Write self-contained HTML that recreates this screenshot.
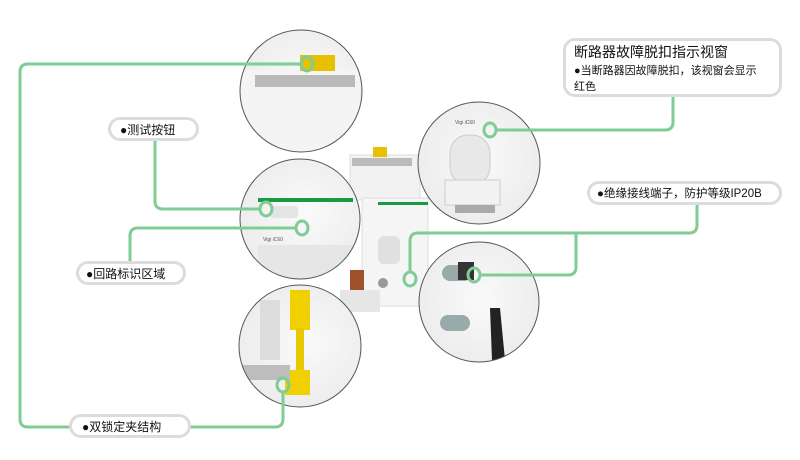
<!DOCTYPE html>
<html><head><meta charset="utf-8"><style>
html,body{margin:0;padding:0;background:#fff;}
body{width:800px;height:460px;overflow:hidden;position:relative;font-family:"Liberation Sans","Noto Sans CJK SC",sans-serif;}
.pill{position:absolute;background:#fff;border:3px solid #dcdcdc;border-radius:12px;font-size:12px;color:#111;line-height:16px;box-sizing:border-box;}
</style></head><body>
<svg width="800" height="460" style="position:absolute;left:0;top:0">
<defs>
<radialGradient id="g" cx="50%" cy="45%" r="60%"><stop offset="0" stop-color="#fafafa"/><stop offset="0.8" stop-color="#ececec"/><stop offset="1" stop-color="#cfcfcf"/></radialGradient>
<clipPath id="c1"><circle cx="301" cy="91" r="61"/></clipPath>
<clipPath id="c2"><circle cx="300" cy="219" r="60"/></clipPath>
<clipPath id="c3"><circle cx="300" cy="346" r="61"/></clipPath>
<clipPath id="c4"><circle cx="479" cy="163" r="61"/></clipPath>
<clipPath id="c5"><circle cx="479" cy="302" r="60"/></clipPath>
</defs>
<!-- central device -->
<rect x="350" y="155" width="70" height="45" fill="#f2f2f2" stroke="#ddd"/>
<rect x="352" y="158" width="60" height="8" fill="#bbb"/>
<rect x="373" y="147" width="14" height="10" fill="#e8c000"/>
<rect x="362" y="198" width="66" height="108" fill="#f5f5f5" stroke="#ddd"/>
<rect x="378" y="202" width="50" height="3" fill="#1a9a40"/>
<rect x="378" y="236" width="22" height="28" rx="6" fill="#e0e0e0"/>
<rect x="350" y="270" width="14" height="30" fill="#a0522d"/>
<rect x="340" y="290" width="40" height="22" fill="#e6e6e6"/>
<circle cx="383" cy="283" r="5" fill="#999"/>
<!-- circles -->
<g clip-path="url(#c1)"><rect x="230" y="20" width="150" height="150" fill="url(#g)"/><rect x="240" y="70" width="120" height="100" fill="#f4f4f4"/><rect x="255" y="75" width="100" height="12" fill="#b9b9b9"/><rect x="300" y="55" width="35" height="16" fill="#e8c000"/></g>
<circle cx="301" cy="91" r="61" fill="none" stroke="#555" stroke-width="1"/>
<g clip-path="url(#c2)"><rect x="230" y="150" width="150" height="140" fill="url(#g)"/><rect x="258" y="198" width="95" height="4" fill="#1a9a40"/><rect x="270" y="206" width="28" height="12" rx="3" fill="#e4e4e4"/><rect x="258" y="245" width="95" height="40" fill="#e6e6e6"/><text x="263" y="241" font-size="5" fill="#555">Vigi iC60</text></g>
<circle cx="300" cy="219" r="60" fill="none" stroke="#555" stroke-width="1"/>
<g clip-path="url(#c3)"><rect x="230" y="280" width="150" height="140" fill="url(#g)"/><rect x="260" y="300" width="20" height="60" fill="#ddd"/><rect x="290" y="290" width="20" height="40" fill="#f0d000"/><rect x="296" y="328" width="8" height="42" fill="#e8c800"/><rect x="285" y="370" width="25" height="25" fill="#f0d000"/><rect x="240" y="365" width="50" height="15" fill="#bdbdbd"/></g>
<circle cx="300" cy="346" r="61" fill="none" stroke="#555" stroke-width="1"/>
<g clip-path="url(#c4)"><rect x="410" y="95" width="140" height="140" fill="url(#g)"/><rect x="450" y="135" width="40" height="50" rx="18" fill="#e8e8e8" stroke="#ccc"/><rect x="445" y="180" width="55" height="25" fill="#f2f2f2" stroke="#ccc"/><rect x="455" y="205" width="40" height="8" fill="#aaa"/><text x="455" y="124" font-size="5" fill="#555">Vigi iC60</text></g>
<circle cx="479" cy="163" r="61" fill="none" stroke="#555" stroke-width="1"/>
<g clip-path="url(#c5)"><rect x="410" y="235" width="140" height="140" fill="url(#g)"/><rect x="442" y="265" width="30" height="16" rx="8" fill="#9aa"/><rect x="458" y="262" width="16" height="18" fill="#333"/><rect x="440" y="315" width="30" height="16" rx="8" fill="#9aa"/><polygon points="490,308 500,308 505,360 492,360" fill="#222"/></g>
<circle cx="479" cy="302" r="60" fill="none" stroke="#555" stroke-width="1"/>
<!-- connectors -->
<g fill="none" stroke="#7fcc94" stroke-width="3" stroke-linejoin="round">
<path d="M300,64 H28 Q20,64 20,72 V419 Q20,427 28,427 H72"/>
<path d="M155,140 V201 Q155,209 163,209 H260"/>
<path d="M130,262 V236 Q130,228 138,228 H296"/>
<path d="M188,427 H275 Q283,427 283,419 V392"/>
<path d="M673,96 V122 Q673,130 665,130 H496"/>
<path d="M697,204 V225 Q697,233 689,233 H418 Q410,233 410,241 V273"/>
<path d="M576,233 V267 Q576,275 568,275 H480"/>
<ellipse cx="307" cy="64" rx="6" ry="7"/>
<ellipse cx="266" cy="209" rx="6" ry="7"/>
<ellipse cx="302" cy="228" rx="6" ry="7"/>
<ellipse cx="283" cy="385" rx="6" ry="7"/>
<ellipse cx="490" cy="130" rx="6" ry="7"/>
<ellipse cx="410" cy="279" rx="6" ry="7"/>
<ellipse cx="474" cy="275" rx="6" ry="7"/>
</g>
</svg>
<div class="pill" style="left:563px;top:38px;width:219px;height:59px;padding:2px 6px 0 8px;">
<div style="font-size:14px;line-height:19px;">断路器故障脱扣指示视窗</div>
<div style="font-size:11px;line-height:18px;white-space:nowrap;">●当断路器因故障脱扣，该视窗会显示</div>
<div style="font-size:11px;line-height:14px;">红色</div></div>
<div class="pill" style="left:108px;top:117px;width:91px;height:24px;padding:2px 0 0 9px;">●测试按钮</div>
<div class="pill" style="left:76px;top:261px;width:110px;height:24px;padding:2px 0 0 7px;">●回路标识区域</div>
<div class="pill" style="left:69px;top:414px;width:122px;height:24px;padding:2px 0 0 10px;">●双锁定夹结构</div>
<div class="pill" style="left:587px;top:181px;width:195px;height:24px;padding:2px 0 0 7px;font-size:11.5px;white-space:nowrap;">●绝缘接线端子，防护等级IP20B</div>
</body></html>
